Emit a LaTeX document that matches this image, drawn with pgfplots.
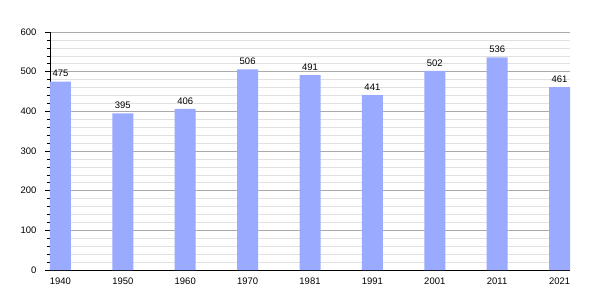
\documentclass[border=0pt]{standalone}
\usepackage{fontspec}
\setmainfont{Liberation Sans}
\usepackage{pgfplots}
\pgfplotsset{compat=1.18}
\definecolor{barblue}{RGB}{153,170,255}
\definecolor{majgrid}{RGB}{170,170,170}
\definecolor{mingrid}{RGB}{225,225,225}
\begin{document}
\begin{tikzpicture}
\begin{axis}[
  name=ax,
  scale only axis,
  width=520bp, height=238bp,
  xmin=-0.168, xmax=8.168,
  ymin=0, ymax=600,
  ybar, bar width=21bp, bar shift=0pt,
  axis x line=bottom, axis y line=left,
  axis line style={-, black, line width=0.8pt},
  xtick=data,
  xticklabels={1940,1950,1960,1970,1981,1991,2001,2011,2021},
  xtick style={draw=none},
  ytick distance=100,
  minor y tick num=4,
  ymajorgrids, yminorgrids,
  major grid style={majgrid, line width=0.6pt},
  minor grid style={mingrid, line width=0.5pt},
  ytick style={black, line width=0.6pt},
  major tick length=5bp, minor tick length=3bp,
  tick align=outside,
  /pgf/number format/assume math mode=true,
  tick label style={font=\fontsize{9.5}{11}\selectfont},
  yticklabel style={xshift=-5bp},
  xticklabel style={yshift=1bp},
  nodes near coords,
  nodes near coords style={font=\fontsize{9.5}{11}\selectfont, black, yshift=1bp},
]
\addplot[fill=barblue, draw=none] coordinates {
 (0,475) (1,395) (2,406) (3,506) (4,491) (5,441) (6,502) (7,536) (8,461)
};
\end{axis}
\useasboundingbox ([shift={(-50bp,-30bp)}]ax.south west) rectangle ([shift={(30bp,32bp)}]ax.north east);
\end{tikzpicture}
\end{document}
